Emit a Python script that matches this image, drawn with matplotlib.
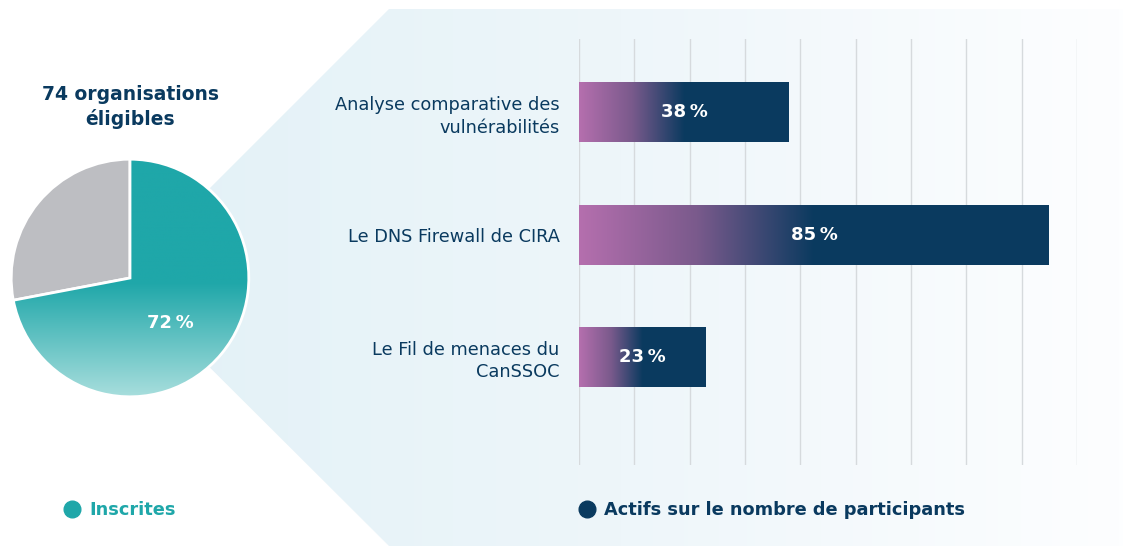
import numpy as np
import matplotlib
matplotlib.use("Agg")
import matplotlib.pyplot as plt
from matplotlib.colors import LinearSegmentedColormap
from matplotlib.patches import Polygon
from matplotlib.lines import Line2D

plt.rcParams['font.family'] = ['DejaVu Sans']

# data
pie_labels = ["Inscrites", "Non inscrites"]
pie_values = [72, 28]
pie_title = "74 organisations\néligibles"

categories = ["Analyse comparative des\nvulnérabilités",
              "Le DNS Firewall de CIRA",
              "Le Fil de menaces du\nCanSSOC"]
actifs = [38, 85, 23]
grid_ticks = list(range(0, 100, 10))

teal = "#1fa7a9"
teal_light = "#a8dedd"
gray = "#bdbec2"
navy = "#0a3a5f"
pink = "#b56fae"

W, H = 1123, 546
fig = plt.figure(figsize=(W / 100, H / 100), dpi=100)

# background panel (pixel coords)
bg = fig.add_axes([0, 0, 1, 1])
bg.set_xlim(0, W)
bg.set_ylim(H, 0)
bg.axis("off")
panel = Polygon([(120, 278), (389, 9), (W, 9), (W, H), (389, H)],
                closed=True, facecolor="none", edgecolor="none")
bg.add_patch(panel)
panel_cmap = LinearSegmentedColormap.from_list("panel", ["#e2f1f7", "#eef6fa", "#fdfeff"])
grad = np.linspace(0, 1, 256).reshape(1, -1)
im = bg.imshow(grad, cmap=panel_cmap, extent=[120, W, H, 9], aspect="auto", zorder=0)
im.set_clip_path(panel)
bg.set_xlim(0, W)
bg.set_ylim(H, 0)

# pie
cx, cy, r = 130, 278, 120
axp = fig.add_axes([(cx - r) / W, (H - cy - r) / H, 2 * r / W, 2 * r / H])
wedges, _ = axp.pie(pie_values, startangle=90, counterclock=False,
                    colors=[teal, gray], radius=1.0,
                    wedgeprops=dict(edgecolor="white", linewidth=2))
pie_cmap = LinearSegmentedColormap.from_list(
    "pie", [(0, teal_light), (0.48, teal), (1, teal)])
vgrad = np.linspace(0, 1, 256).reshape(-1, 1)
pim = axp.imshow(vgrad, cmap=pie_cmap, extent=[-1, 1, -1, 1], origin="lower",
                 aspect="auto", zorder=wedges[0].get_zorder() + 0.1)
pim.set_clip_path(wedges[0])
wedges[0].set_zorder(pim.get_zorder() + 0.1)
wedges[0].set_facecolor("none")
axp.set_xlim(-1.01, 1.01)
axp.set_ylim(-1.01, 1.01)
axp.set_aspect("equal")
axp.axis("off")
axp.text(0.34, -0.38, f"{pie_values[0]}\u2009%", color="white", fontsize=13,
         fontweight="bold", ha="center", va="center", zorder=10)
fig.text(130 / W, 1 - 107 / H, pie_title, ha="center", va="center",
         fontsize=13.5, fontweight="bold", color=navy, linespacing=1.3)

# bars
x0, x1, y0, y1 = 579, 1077, 39, 465
axb = fig.add_axes([x0 / W, (H - y1) / H, (x1 - x0) / W, (y1 - y0) / H])
axb.patch.set_alpha(0)
ypos = np.arange(len(categories))
bar_h = 0.49
bars = axb.barh(ypos, actifs, height=bar_h, color=navy, zorder=3)
bar_cmap = LinearSegmentedColormap.from_list("bar", [pink, "#7a5a8c", navy])
hgrad = np.linspace(0, 1, 256).reshape(1, -1)
for b, v, y in zip(bars, actifs, ypos):
    g = axb.imshow(hgrad, cmap=bar_cmap, aspect="auto", zorder=4,
                   extent=[0, v * 0.5, y + bar_h / 2, y - bar_h / 2])
    g.set_clip_path(b)
    axb.text(v / 2, y, f"{v}\u2009%", color="white", fontsize=13,
             fontweight="bold", ha="center", va="center", zorder=5)
axb.set_xlim(0, 90)
axb.set_ylim(2.88, -0.6)
for t in grid_ticks:
    axb.axvline(t, color="#d6dadd", linewidth=1, zorder=1)
axb.set_xticks([])
axb.set_yticks(ypos)
axb.set_yticklabels(categories, fontsize=12.8, color=navy, linespacing=1.3)
axb.tick_params(axis="y", length=0, pad=14)
for s in axb.spines.values():
    s.set_visible(False)

# legends
h1 = [Line2D([], [], marker="o", linestyle="", markersize=12, color=teal)]
leg1 = fig.legend(h1, ["Inscrites"], loc="center left",
                  bbox_to_anchor=(61 / W, 1 - 510 / H), frameon=False,
                  prop=dict(size=12.8, weight="bold"), handletextpad=0.4,
                  borderaxespad=0, borderpad=0, handlelength=1.2)
for t in leg1.get_texts():
    t.set_color(teal)
h2 = [Line2D([], [], marker="o", linestyle="", markersize=12, color=navy)]
leg2 = fig.legend(h2, ["Actifs sur le nombre de participants"], loc="center left",
                  bbox_to_anchor=(576 / W, 1 - 510 / H), frameon=False,
                  prop=dict(size=12.8, weight="bold"), handletextpad=0.4,
                  borderaxespad=0, borderpad=0, handlelength=1.2)
for t in leg2.get_texts():
    t.set_color(navy)

fig.savefig("out.png", dpi=100)
